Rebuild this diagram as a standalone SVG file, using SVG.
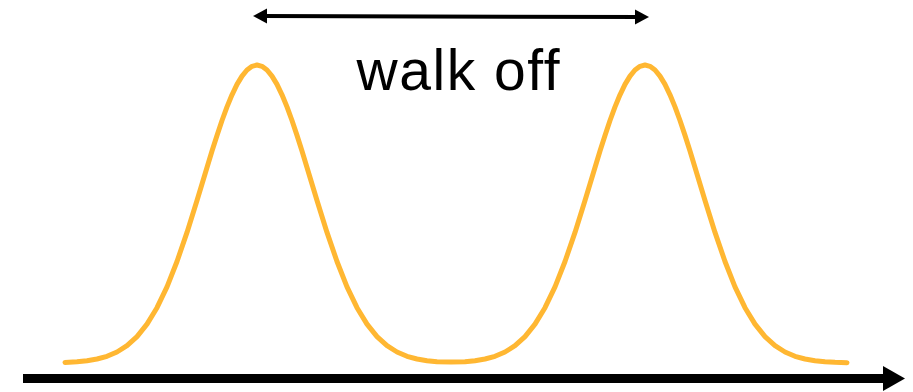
<svg xmlns="http://www.w3.org/2000/svg" width="913" height="392" viewBox="0 0 913 392">
<style>
.curve{fill:none;stroke:#FFB732;stroke-width:5;stroke-linecap:round;stroke-linejoin:round}
.lbl{font-family:"Liberation Sans",Arial,sans-serif;font-size:57px;fill:#000}
</style>
<defs>
<marker id="ah" markerWidth="15" markerHeight="16" refX="7" refY="7.5" orient="auto-start-reverse" markerUnits="userSpaceOnUse">
<path d="M0,0 L14,7.5 L0,15 Z" fill="#000"/>
</marker>
<marker id="axh" markerWidth="24" markerHeight="26" refX="10" refY="12.5" orient="auto" markerUnits="userSpaceOnUse">
<path d="M0,0 L22,12.5 L0,25 Z" fill="#000"/>
</marker>
</defs>
<g id="curve">
<polyline class="curve" points="65,362.4 77,361.7 87,360.7 97,359 107,356.3 117,352 127,345.7 137,336.6 147,324.1 157,307.7 167,286.8 177,261.5 187,232.4 197,200.4 202,183.9 207,167.4 212,151.1 217,135.4 222,120.5 227,106.9 232,94.8 237,84.4 242,76.1 247,70 252,66.3 257,65 262,66.3 267,70 272,76.1 277,84.4 282,94.8 287,106.9 292,120.5 297,135.4 302,151.1 307,167.4 312,183.9 317,200.4 327,232.4 337,261.5 347,286.8 357,307.7 367,324.1 377,336.6 387,345.7 397,352 407,356.3 417,359 427,360.7 437,361.7 451,362.1 465,361.7 475,360.7 485,359 495,356.3 505,352 515,345.7 525,336.6 535,324.1 545,307.7 555,286.8 565,261.5 575,232.4 585,200.4 590,183.9 595,167.4 600,151.1 605,135.4 610,120.5 615,106.9 620,94.8 625,84.4 630,76.1 635,70 640,66.3 645,65 650,66.3 655,70 660,76.1 665,84.4 670,94.8 675,106.9 680,120.5 685,135.4 690,151.1 695,167.4 700,183.9 705,200.4 715,232.4 725,261.5 735,286.8 745,307.7 755,324.1 765,336.6 775,345.7 785,352 795,356.3 805,359 815,360.7 825,361.7 835,362.3 847,362.7"/>
</g>
<g id="connectors">
<line x1="260" y1="16" x2="642" y2="17" stroke="#000" stroke-width="4" marker-start="url(#ah)" marker-end="url(#ah)"/>
<line x1="23" y1="378.5" x2="893" y2="378.5" stroke="#000" stroke-width="9" marker-end="url(#axh)"/>
</g>
<g id="label">
<text class="lbl" x="458" y="90" text-anchor="middle" textLength="203">walk off</text>
</g>
</svg>
